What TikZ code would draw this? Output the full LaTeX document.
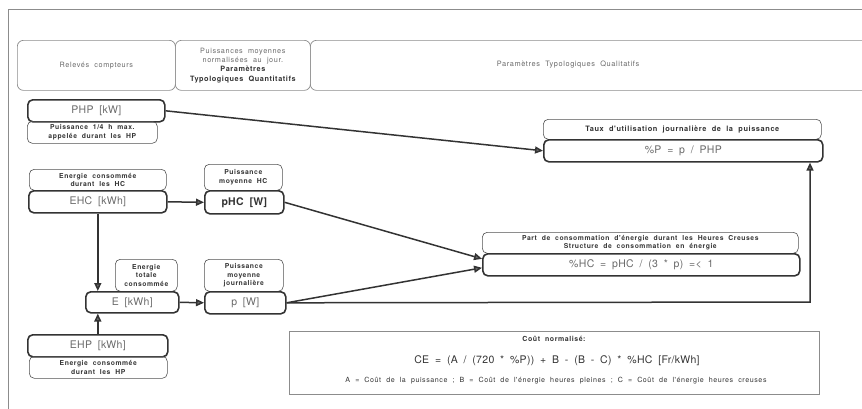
\documentclass[tikz,border=0pt]{standalone}
\usepackage{fontspec}
\setmainfont{TeX Gyre Heros}[LetterSpace=3,WordSpace=1.8]
\newfontfamily\widefont{TeX Gyre Heros}[LetterSpace=8,WordSpace=2]
\usetikzlibrary{arrows.meta,positioning}
\definecolor{ink}{HTML}{333333}
\definecolor{inkgray}{HTML}{6A6A6A}
\definecolor{framegray}{HTML}{8C8C8C}

\tikzset{
  valbox/.style={draw=ink, line width=1.6pt, rounded corners=5pt, inner sep=0pt,
    anchor=north west, text=inkgray, font=\fontsize{10.5}{12}\selectfont},
  lblbox/.style={draw=ink!85, line width=0.6pt, rounded corners=5pt, inner sep=0pt,
    anchor=north west, align=center, text=ink, font=\widefont\fontsize{6.8}{8.6}\selectfont\bfseries},
  headbox/.style={draw=framegray, line width=0.7pt, rounded corners=6pt, inner sep=0pt,
    anchor=north west, align=center, text=inkgray, font=\widefont\fontsize{7.3}{9.4}\selectfont},
  flow/.style={draw=ink, line width=1.5pt, -{Triangle[length=8pt,width=7pt,fill=inkgray]}},
}

\begin{document}
\begin{tikzpicture}[x=1pt,y=-1pt]
\useasboundingbox (0,0) rectangle (862,408);
\clip (0,0) rectangle (862,408);

% cadre
\draw[framegray, line width=0.8pt] (8,420) -- (8,9) -- (870,9);

% en-tetes
\node[headbox, minimum width=158pt, minimum height=50pt] (releves) at (17,40) {Relevés compteurs};
\node[headbox, minimum width=135pt, minimum height=50pt] (quanti) at (175,40)
  {Puissances moyennes\\normalisées au jour.\\{\color{ink}\bfseries Paramètres}\\{\color{ink}\bfseries Typologiques Quantitatifs}};
\node[headbox, minimum width=560pt, minimum height=50pt] (quali) at (310,40) {};
\node[text=inkgray, font=\widefont\fontsize{7.4}{8}\selectfont] (qualitxt) at (568,65) {Paramètres Typologiques Qualitatifs};

% releves compteurs
\node[valbox, minimum width=137pt, minimum height=22pt] (php) at (27,99) {PHP [kW]};
\node[lblbox, minimum width=130pt, minimum height=22pt] (phpL) at (27,121) {Puissance 1/4 h max.\\appelée durant les HP};

\node[lblbox, minimum width=137pt, minimum height=21pt] (ehcL) at (29,169) {Energie consommée\\durant les HC};
\node[valbox, minimum width=138pt, minimum height=22pt] (ehc) at (28,190) {EHC [kWh]};

\node[valbox, minimum width=140pt, minimum height=22pt] (ehp) at (27,334) {EHP [kWh]};
\node[lblbox, minimum width=138pt, minimum height=22pt] (ehpL) at (29,356) {Energie consommée\\durant les HP};

\node[lblbox, minimum width=62pt, minimum height=32pt] (eL) at (115,259) {Energie\\totale\\consommée};
\node[valbox, minimum width=93pt, minimum height=21pt] (e) at (85,291) {E [kWh]};

% puissances moyennes
\node[lblbox, minimum width=78pt, minimum height=26pt] (phcL) at (204,164) {Puissance\\moyenne HC};
\node[valbox, minimum width=79pt, minimum height=23pt, text=ink, font=\fontsize{10.5}{12}\selectfont\bfseries] (phc) at (204,190) {pHC [W]};

\node[lblbox, minimum width=79pt, minimum height=32pt] (pL) at (204,259) {Puissance\\moyenne\\journalière};
\node[valbox, minimum width=81pt, minimum height=22pt] (p) at (204,291) {p [W]};

% parametres qualitatifs
\node[lblbox, minimum width=278pt, minimum height=20pt, font=\widefont\fontsize{7.4}{8.6}\selectfont\bfseries] (tauxL) at (543,119) {Taux d'utilisation journalière de la puissance};
\node[valbox, minimum width=279pt, minimum height=22pt] (pct) at (543,139) {\%P = p / PHP};

\node[lblbox, minimum width=316pt, minimum height=21pt] (partL) at (482,232)
  {Part de consommation d'énergie durant les Heures Creuses\\Structure de consommation en énergie};
\node[valbox, minimum width=317pt, minimum height=22pt] (hc) at (482,253) {\%HC = pHC / (3 * p) =< 1};

% cout normalise
\node[draw=framegray, line width=0.7pt, anchor=north west, inner sep=0pt,
  minimum width=530pt, minimum height=63pt] (cout) at (289,331) {};
\node[text=ink, font=\widefont\fontsize{7}{8}\selectfont\bfseries] (coutT) at (554,339) {Coût normalisé:};
\node[text=ink, font=\fontsize{10.5}{12}\selectfont] (coutF) at (557,361) {CE = (A / (720 * \%P)) + B - (B - C) * \%HC [Fr/kWh]};
\node[text=ink, font=\widefont\fontsize{7.1}{8}\selectfont] (coutL) at (556,381)
  {A = Coût de la puissance ; B = Coût de l'énergie heures pleines ; C = Coût de l'énergie heures creuses};

% liaisons
\coordinate (coin) at (810,302);
\draw[flow] (php.east) -- (pct.west);
\draw[flow] (ehc.east) -- (phc.west);
\draw[flow] (ehc.south) -- (ehc.south |- e.north);
\draw[flow] (ehp.north) -- (ehp.north |- e.south);
\draw[flow] (e.east) -- (p.east -| p.west);
\draw[flow] (phc.east) -- ([yshift=6pt]hc.west);
\draw[flow] (p.east) -- ([yshift=-3pt]hc.west);
\draw[flow] (p.east) -- (coin) -- (coin |- pct.south);
\end{tikzpicture}
\end{document}
